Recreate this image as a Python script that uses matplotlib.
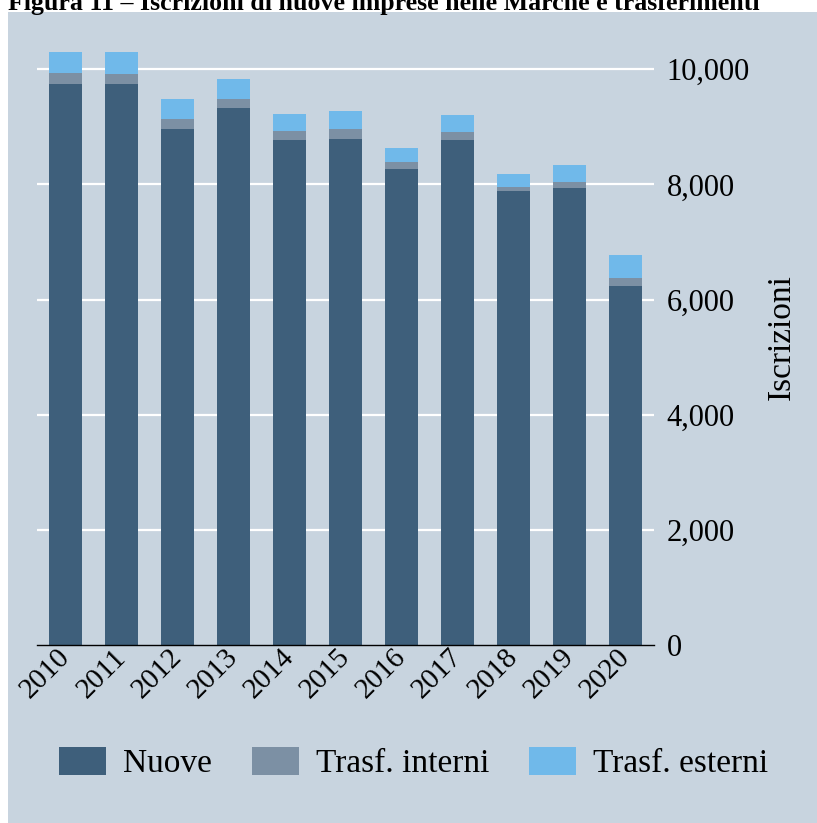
import matplotlib
matplotlib.use('Agg')
import matplotlib.pyplot as plt
from matplotlib.patches import Rectangle
import numpy as np

# dati
anni = ['2010', '2011', '2012', '2013', '2014', '2015', '2016', '2017', '2018', '2019', '2020']
nuove = [9750, 9740, 8970, 9320, 8770, 8790, 8260, 8770, 7880, 7930, 6240]
trasf_interni = [190, 170, 160, 160, 160, 170, 130, 140, 80, 110, 140]
trasf_esterni = [360, 390, 350, 360, 300, 310, 240, 290, 230, 290, 400]
yticks = [0, 2000, 4000, 6000, 8000, 10000]

plt.rcParams['font.family'] = ['Liberation Serif', 'DejaVu Serif']

W, H = 817, 823
fig = plt.figure(figsize=(W / 100, H / 100), dpi=100, facecolor='white')

# sfondo del pannello
fig.patches.append(Rectangle((8 / W, 0), 1 - 8 / W, 1 - 12 / H, transform=fig.transFigure,
                             facecolor='#c8d4df', edgecolor='none', zorder=-10))

# titolo (tagliato in alto come nell'originale)
fig.text(8 / W, 1 - 10 / H, 'Figura 11 – Iscrizioni di nuove imprese nelle Marche e trasferimenti',
         fontsize=18.6, fontweight='bold', va='baseline', ha='left')

ymax = 10700
ax = fig.add_axes([37 / W, 178 / H, (654 - 37) / W, ymax * 0.05757 / H])
ax.set_facecolor('none')

x = np.arange(len(anni))
nuove = np.array(nuove)
interni = np.array(trasf_interni)
esterni = np.array(trasf_esterni)

for y in yticks[1:]:
    ax.axhline(y, color='white', lw=1.6, zorder=0)

w = 0.59
ax.bar(x, nuove, w, color='#3e5f7b', label='Nuove', zorder=2)
ax.bar(x, interni, w, bottom=nuove, color='#7c90a4', label='Trasf. interni', zorder=2)
ax.bar(x, esterni, w, bottom=nuove + interni, color='#70b9ea', label='Trasf. esterni', zorder=2)

ax.set_xlim(-0.518, 10.51)
ax.set_ylim(0, ymax)

for s in ['top', 'left', 'right']:
    ax.spines[s].set_visible(False)
ax.spines['bottom'].set_color('black')
ax.spines['bottom'].set_linewidth(1.0)

ax.yaxis.tick_right()
ax.set_yticks(yticks)
ax.set_yticklabels([f'{v:,}' for v in yticks], fontsize=22)
ax.tick_params(axis='y', length=0, pad=9)
ax.yaxis.set_label_position('right')
ax.set_ylabel('Iscrizioni', fontsize=24, labelpad=12)

ax.set_xticks(x)
ax.set_xticklabels(anni, fontsize=21, rotation=45, ha='right', va='center', rotation_mode='anchor')
ax.tick_params(axis='x', length=0, pad=6)

fig.legend(loc='center left', bbox_to_anchor=(59 / W, 1 - 763 / H), ncol=3, frameon=False,
           fontsize=24, handlelength=1.41, handleheight=0.93, handletextpad=0.51,
           columnspacing=1.2, borderpad=0, borderaxespad=0)

fig.savefig('out.png', dpi=100, facecolor='white')
